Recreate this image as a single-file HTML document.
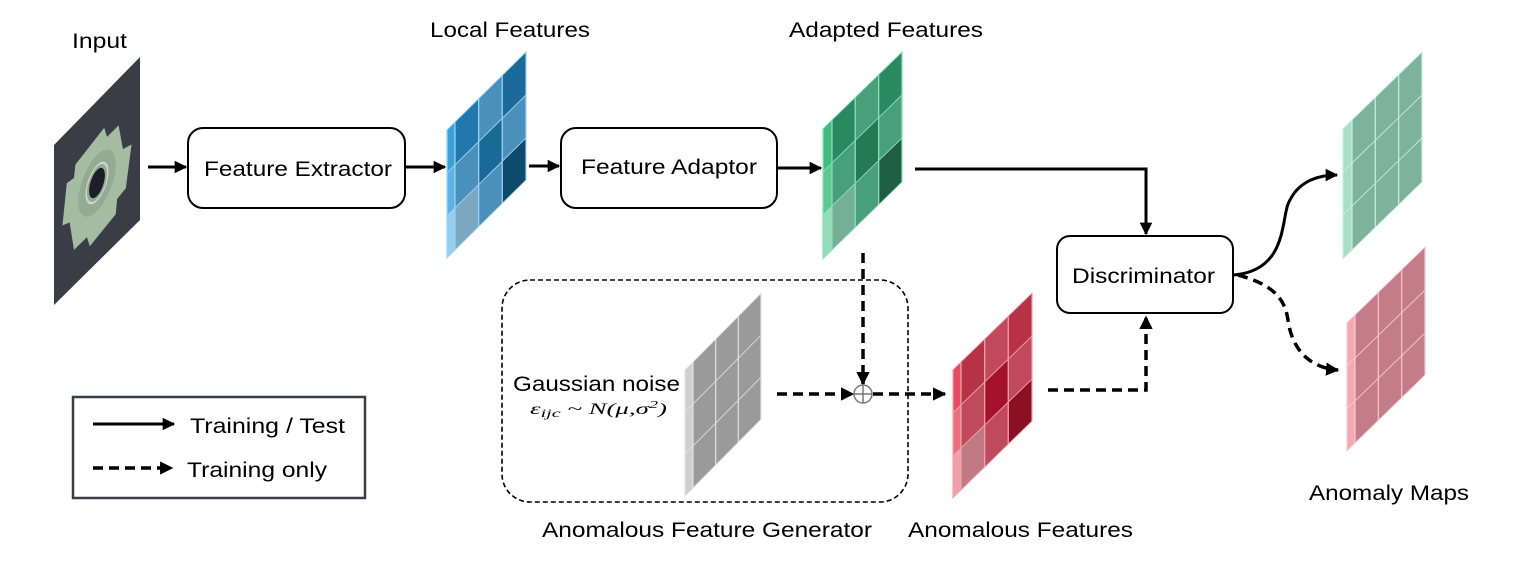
<!DOCTYPE html>
<html><head><meta charset="utf-8"><style>
html,body{margin:0;padding:0;background:#fff;}
svg{display:block;}
text{font-family:"Liberation Sans",Arial,sans-serif;fill:#000;}
</style></head><body>
<svg width="1522" height="563" viewBox="0 0 1522 563" xmlns="http://www.w3.org/2000/svg">
<defs>
<marker id="ah" viewBox="0 0 10 10" refX="9" refY="5" markerWidth="4.2" markerHeight="4.2" orient="auto" markerUnits="strokeWidth"><path d="M0,0 L10,5 L0,10 z" fill="#000"/></marker>
<marker id="ahd" viewBox="0 0 10 10" refX="9" refY="5" markerWidth="3.8" markerHeight="3.8" orient="auto" markerUnits="strokeWidth"><path d="M0,0 L10,5 L0,10 z" fill="#000"/></marker>
</defs>

<!-- Input image -->
<polygon points="54,145 140,57 140,220 54,305" fill="#3a3d46"/>
<g transform="matrix(0.72,-0.72,0,1,97,183)">
<path d="M-30,-40 L10,-48 L14,-36 L30,-36 L36,-8 L48,-4 L40,34 L28,36 L26,50 L-10,56 L-14,44 L-32,44 L-38,12 L-48,8 L-42,-30 L-32,-28 Z" fill="#a5bca3"/>
<ellipse cx="0" cy="0" rx="26" ry="28" fill="#94aa93"/>
<ellipse cx="0" cy="0" rx="15" ry="17" fill="none" stroke="#c9d6d2" stroke-width="2"/>
<ellipse cx="0" cy="0" rx="11" ry="13" fill="#1c1f28"/>
</g>

<!-- Local features (blue) -->
<g transform="matrix(1,-0.986,0,1,455,122)" stroke="#9fd2f0" stroke-width="1.2">
<rect x="-8" y="0" width="8" height="43" fill="#3aa0dc"/>
<rect x="-8" y="43" width="8" height="43" fill="#5ab4e6"/>
<rect x="-8" y="86" width="8" height="42" fill="#93cff0"/>
<rect x="0" y="0" width="23.7" height="43" fill="#2278ad"/>
<rect x="23.7" y="0" width="23.7" height="43" fill="#4a90bd"/>
<rect x="47.3" y="0" width="23.7" height="43" fill="#1b6a9a"/>
<rect x="0" y="43" width="23.7" height="43" fill="#4a90bd"/>
<rect x="23.7" y="43" width="23.7" height="43" fill="#1a6a97"/>
<rect x="47.3" y="43" width="23.7" height="43" fill="#4a90bd"/>
<rect x="0" y="86" width="23.7" height="42" fill="#7aa8c0"/>
<rect x="23.7" y="86" width="23.7" height="42" fill="#4a90bd"/>
<rect x="47.3" y="86" width="23.7" height="42" fill="#0e4a6b"/>
</g>

<!-- Adapted features (green) -->
<g transform="matrix(1,-0.971,0,1,832,120)" stroke="#8fdcb7" stroke-width="1.2">
<rect x="-9" y="0" width="9" height="43" fill="#3dbd80"/>
<rect x="-9" y="43" width="9" height="43" fill="#5cc993"/>
<rect x="-9" y="86" width="9" height="44" fill="#93dcb9"/>
<rect x="0" y="0" width="23.3" height="43" fill="#2a8a5f"/>
<rect x="23.3" y="0" width="23.3" height="43" fill="#47a07a"/>
<rect x="46.7" y="0" width="23.3" height="43" fill="#2a8a5f"/>
<rect x="0" y="43" width="23.3" height="43" fill="#47a07a"/>
<rect x="23.3" y="43" width="23.3" height="43" fill="#237a53"/>
<rect x="46.7" y="43" width="23.3" height="43" fill="#47a07a"/>
<rect x="0" y="86" width="23.3" height="44" fill="#76b094"/>
<rect x="23.3" y="86" width="23.3" height="44" fill="#47a07a"/>
<rect x="46.7" y="86" width="23.3" height="44" fill="#1f5e42"/>
</g>

<!-- Gray noise -->
<g transform="matrix(1,-1.01,0,1,693,362)" stroke="#e2e2e2" stroke-width="1.2">
<rect x="-8" y="0" width="8" height="126" fill="#cfcfcf"/>
<rect x="0" y="0" width="68" height="126" fill="#9a9a9a"/>
<line x1="22.7" y1="0" x2="22.7" y2="126"/><line x1="45.3" y1="0" x2="45.3" y2="126"/>
<line x1="-8" y1="42" x2="68" y2="42"/><line x1="-8" y1="84" x2="68" y2="84"/>
</g>

<!-- Anomalous features (red) -->
<g transform="matrix(1,-0.97,0,1,961,362)" stroke="#f2a0ac" stroke-width="1.2">
<rect x="-8" y="0" width="8" height="43" fill="#e84a60"/>
<rect x="-8" y="43" width="8" height="43" fill="#e8707f"/>
<rect x="-8" y="86" width="8" height="42" fill="#f0a0ab"/>
<rect x="0" y="0" width="23.7" height="43" fill="#b83245"/>
<rect x="23.7" y="0" width="23.7" height="43" fill="#c04a5c"/>
<rect x="47.3" y="0" width="23.7" height="43" fill="#b83245"/>
<rect x="0" y="43" width="23.7" height="43" fill="#c04a5c"/>
<rect x="23.7" y="43" width="23.7" height="43" fill="#a31228"/>
<rect x="47.3" y="43" width="23.7" height="43" fill="#c04a5c"/>
<rect x="0" y="86" width="23.7" height="42" fill="#c07a84"/>
<rect x="23.7" y="86" width="23.7" height="42" fill="#c04a5c"/>
<rect x="47.3" y="86" width="23.7" height="42" fill="#8a1022"/>
</g>

<!-- Anomaly map green -->
<g transform="matrix(1,-0.971,0,1,1352,120)" stroke="#c8eedd" stroke-width="1.2">
<rect x="-9" y="0" width="9" height="130" fill="#a8e0c6"/>
<rect x="0" y="0" width="70" height="130" fill="#7db39a"/>
<line x1="23.3" y1="0" x2="23.3" y2="130"/><line x1="46.7" y1="0" x2="46.7" y2="130"/>
<line x1="-9" y1="43" x2="70" y2="43"/><line x1="-9" y1="86" x2="70" y2="86"/>
</g>

<!-- Anomaly map red -->
<g transform="matrix(1,-0.971,0,1,1355,315)" stroke="#f8c8ce" stroke-width="1.2">
<rect x="-8" y="0" width="8" height="128" fill="#f4a9b2"/>
<rect x="0" y="0" width="70" height="128" fill="#c47d86"/>
<line x1="23.3" y1="0" x2="23.3" y2="128"/><line x1="46.7" y1="0" x2="46.7" y2="128"/>
<line x1="-8" y1="43" x2="70" y2="43"/><line x1="-8" y1="86" x2="70" y2="86"/>
</g>

<!-- Boxes -->
<rect x="188" y="128" width="217" height="80" rx="15" fill="#fff" stroke="#000" stroke-width="2"/>
<rect x="561" y="128" width="216" height="80" rx="15" fill="#fff" stroke="#000" stroke-width="2"/>
<rect x="1057" y="236" width="176" height="77" rx="13" fill="#fff" stroke="#000" stroke-width="2"/>
<rect x="502" y="280" width="406" height="222" rx="28" fill="none" stroke="#000" stroke-width="1.6" stroke-dasharray="5,3"/>
<rect x="73" y="397" width="292" height="101" fill="none" stroke="#3a3d46" stroke-width="2.5"/>

<!-- Solid arrows -->
<g stroke="#000" stroke-width="3" fill="none">
<line x1="148" y1="167" x2="186" y2="167" marker-end="url(#ah)"/>
<line x1="405" y1="167" x2="445" y2="167" marker-end="url(#ah)"/>
<line x1="529" y1="166" x2="559" y2="166" marker-end="url(#ah)"/>
<line x1="777" y1="168" x2="821" y2="168" marker-end="url(#ah)"/>
<polyline points="915,169 1146,169 1146,234" marker-end="url(#ah)"/>
<path d="M1234,275 C1290,270 1280,215 1290,200 C1300,180 1320,175 1337,175" marker-end="url(#ah)"/>
<line x1="93" y1="424" x2="174" y2="424" marker-end="url(#ah)"/>
</g>

<!-- Dashed arrows -->
<g stroke="#000" stroke-width="3.5" fill="none" stroke-dasharray="10,6">
<line x1="863" y1="253" x2="863" y2="384" marker-end="url(#ahd)"/>
<line x1="777" y1="394" x2="853" y2="394" marker-end="url(#ahd)"/>
<line x1="873" y1="394" x2="945" y2="394" marker-end="url(#ahd)"/>
<polyline points="1048,390 1146,390 1146,317" marker-end="url(#ahd)"/>
<path d="M1238,275 C1275,285 1285,300 1288,320 C1292,350 1310,368 1338,370" marker-end="url(#ahd)"/>
<line x1="93" y1="468" x2="172" y2="468" marker-end="url(#ahd)"/>
</g>
<circle cx="863" cy="394" r="9" fill="#fff" stroke="#777" stroke-width="1.5"/>
<line x1="854" y1="394" x2="872" y2="394" stroke="#777" stroke-width="1.5"/>
<line x1="863" y1="385" x2="863" y2="403" stroke="#777" stroke-width="1.5"/>

<!-- Labels -->
<g font-size="21">
<text x="72" y="48" textLength="55" lengthAdjust="spacingAndGlyphs">Input</text>
<text x="430" y="37" textLength="160" lengthAdjust="spacingAndGlyphs">Local Features</text>
<text x="789" y="37" textLength="194" lengthAdjust="spacingAndGlyphs">Adapted Features</text>
<text x="204" y="176" textLength="188" lengthAdjust="spacingAndGlyphs">Feature Extractor</text>
<text x="581" y="174" textLength="176" lengthAdjust="spacingAndGlyphs">Feature Adaptor</text>
<text x="1072" y="283" textLength="143" lengthAdjust="spacingAndGlyphs">Discriminator</text>
<text x="513" y="391" textLength="167" lengthAdjust="spacingAndGlyphs">Gaussian noise</text>
<text x="542" y="537" textLength="330" lengthAdjust="spacingAndGlyphs">Anomalous Feature Generator</text>
<text x="908" y="537" textLength="225" lengthAdjust="spacingAndGlyphs">Anomalous Features</text>
<text x="1309" y="500" textLength="160" lengthAdjust="spacingAndGlyphs">Anomaly Maps</text>
<text x="190" y="433" textLength="155" lengthAdjust="spacingAndGlyphs">Training / Test</text>
<text x="187" y="477" textLength="140" lengthAdjust="spacingAndGlyphs">Training only</text>
</g>
<text x="530" y="414" font-size="16" font-style="italic" style="font-family:'Liberation Serif',serif" textLength="137" lengthAdjust="spacingAndGlyphs">ε<tspan font-size="12" dy="3">ijc</tspan><tspan dy="-3"> ~ N(μ,σ</tspan><tspan font-size="11" dy="-6">2</tspan><tspan dy="6">)</tspan></text>
</svg>
</body></html>
